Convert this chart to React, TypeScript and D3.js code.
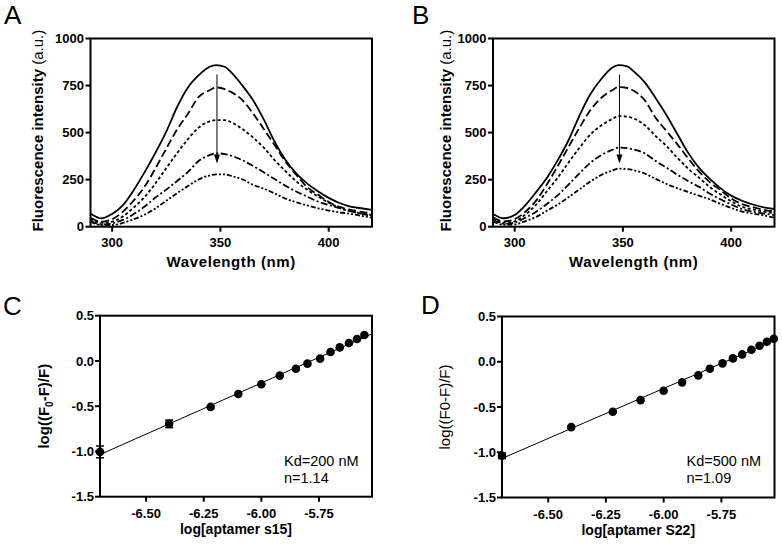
import React from 'react';
import * as d3 from 'd3';

// ---------- Data ----------
const WAVELENGTHS = [290, 295, 300, 305, 310, 315, 320, 325, 330, 335, 340, 345, 348, 352, 355, 360, 365, 370, 375, 380, 385, 390, 395, 400, 405, 410, 415, 420];

const A_CURVE_1 = [70, 44, 68, 115, 195, 290, 393, 505, 636, 740, 805, 850, 859, 850, 820, 752, 673, 570, 452, 356, 283, 230, 188, 153, 126, 107, 98, 89];
const A_CURVE_2 = [48, 27, 40, 80, 140, 213, 310, 415, 517, 600, 690, 725, 740, 731, 715, 674, 603, 519, 434, 347, 276, 211, 171, 131, 105, 90, 79, 71];
const A_CURVE_3 = [44, 20, 27, 55, 102, 158, 230, 312, 391, 465, 527, 560, 566, 566, 555, 520, 475, 420, 354, 296, 241, 197, 161, 128, 100, 82, 70, 62];
const A_CURVE_4 = [33, 12, 18, 36, 67, 107, 155, 197, 243, 291, 350, 380, 390, 386, 377, 354, 323, 289, 253, 218, 187, 160, 134, 115, 98, 83, 70, 57];
const A_CURVE_5 = [27, 9, 9, 20, 40, 64, 97, 138, 178, 216, 251, 272, 278, 278, 270, 252, 223, 202, 177, 149, 130, 113, 98, 86, 76, 69, 58, 48];

const B_CURVE_1 = [68, 45, 62, 115, 185, 262, 355, 462, 592, 705, 785, 845, 859, 852, 825, 768, 685, 595, 495, 395, 315, 255, 205, 165, 138, 118, 103, 94];
const B_CURVE_2 = [50, 28, 40, 80, 140, 227, 324, 426, 527, 620, 685, 725, 742, 737, 722, 673, 580, 510, 440, 365, 295, 238, 195, 150, 120, 104, 90, 80];
const B_CURVE_3 = [45, 20, 28, 65, 118, 190, 262, 343, 420, 490, 538, 572, 588, 585, 575, 540, 483, 430, 368, 310, 262, 212, 172, 135, 106, 92, 80, 71];
const B_CURVE_4 = [38, 16, 22, 48, 80, 122, 168, 225, 284, 340, 380, 408, 420, 417, 410, 390, 350, 315, 277, 243, 213, 176, 146, 118, 94, 80, 70, 62];
const B_CURVE_5 = [28, 10, 12, 30, 52, 86, 118, 158, 199, 240, 275, 298, 309, 306, 300, 283, 255, 228, 205, 185, 165, 146, 122, 100, 80, 70, 60, 48];

const SPECTRUM_X_TICKS = [300, 350, 400];
const SPECTRUM_Y_TICKS = [0, 250, 500, 750, 1000];
const ARROW = { wl: 348.4, from: 809, to: 336 };

const C_X = [-6.70, -6.40, -6.22, -6.10, -6.00, -5.92, -5.85, -5.80, -5.745, -5.70, -5.66, -5.62, -5.585, -5.553];
const C_Y = [-1.005, -0.695, -0.508, -0.366, -0.258, -0.162, -0.086, -0.03, 0.026, 0.099, 0.15, 0.199, 0.243, 0.287];
const C_ERR = [0.065, 0.042, 0, 0, 0, 0, 0, 0, 0, 0, 0, 0, 0, 0];

const D_X = [-6.70, -6.40, -6.22, -6.10, -6.00, -5.92, -5.85, -5.80, -5.745, -5.70, -5.66, -5.62, -5.585, -5.553, -5.523];
const D_Y = [-1.039, -0.722, -0.552, -0.424, -0.32, -0.228, -0.151, -0.077, -0.018, 0.037, 0.081, 0.133, 0.177, 0.221, 0.254];
const D_ERR = [0.03, 0, 0, 0, 0, 0, 0, 0, 0, 0, 0, 0, 0, 0, 0];

const HILL_X_TICKS = [-6.5, -6.25, -6.0, -5.75];
const HILL_Y_TICKS = [-1.5, -1.0, -0.5, 0.0, 0.5];

const FONT = 'Arial, "Liberation Sans", Helvetica, sans-serif';
const DASHES = ['none', '8,3.5', '3,2.4', '7,2.5,2,2.5', '5,2,2,2,2,2'];

type Box = { x0: number; x1: number; y0: number; y1: number };

function linearFit(xs: number[], ys: number[]) {
  const mx = d3.mean(xs) as number;
  const my = d3.mean(ys) as number;
  let sxy = 0, sxx = 0;
  xs.forEach((v, i) => { sxy += (v - mx) * (ys[i] - my); sxx += (v - mx) * (v - mx); });
  const slope = sxy / sxx;
  return { slope, intercept: my - slope * mx };
}

function SpectrumPanel({ box, curves, letter, letterPos, yTitleX, clipId }: { box: Box; curves: number[][]; letter: string; letterPos: [number, number]; yTitleX: number; clipId: string }) {
  const x = d3.scaleLinear().domain([290, 420]).range([box.x0, box.x1]);
  const y = d3.scaleLinear().domain([0, 1000]).range([box.y1, box.y0]);
  const line = d3.line<number>().x((_, i) => x(WAVELENGTHS[i])).y(d => y(d)).curve(d3.curveMonotoneX);
  const ax = x(ARROW.wl);
  const tipY = y(ARROW.to);
  const cy = (box.y0 + box.y1) / 2;
  return (
    <g>
      <text x={letterPos[0]} y={letterPos[1]} fontSize={26} fontFamily={FONT}>{letter}</text>
      <defs>
        <clipPath id={clipId}><rect x={box.x0} y={box.y0} width={box.x1 - box.x0} height={box.y1 - box.y0} /></clipPath>
      </defs>
      <g clipPath={`url(#${clipId})`}>
        {curves.map((c, i) => (
          <path key={i} d={line(c) || ''} fill="none" stroke="#000" strokeWidth={1.8} strokeDasharray={DASHES[i]} />
        ))}
      </g>
      <line x1={ax} x2={ax} y1={y(ARROW.from)} y2={tipY - 8} stroke="#000" strokeWidth={1} />
      <path d={`M${ax - 3},${tipY - 9} L${ax + 3},${tipY - 9} L${ax},${tipY} Z`} fill="#000" />
      <rect x={box.x0} y={box.y0} width={box.x1 - box.x0} height={box.y1 - box.y0} fill="none" stroke="#000" strokeWidth={2} />
      {SPECTRUM_Y_TICKS.map(t => (
        <g key={t}>
          <line x1={box.x0 - 5} x2={box.x0} y1={y(t)} y2={y(t)} stroke="#000" strokeWidth={2} />
          <text x={box.x0 - 6.5} y={y(t)} dy="0.36em" textAnchor="end" fontSize={13} fontWeight="bold" fontFamily={FONT}>{t}</text>
        </g>
      ))}
      {SPECTRUM_X_TICKS.map(t => (
        <g key={t}>
          <line x1={x(t)} x2={x(t)} y1={box.y1} y2={box.y1 + 5} stroke="#000" strokeWidth={2} />
          <text x={x(t)} y={box.y1 + 20.5} textAnchor="middle" fontSize={13} fontWeight="bold" fontFamily={FONT}>{t}</text>
        </g>
      ))}
      <text x={(box.x0 + box.x1) / 2} y={box.y1 + 40} textAnchor="middle" fontSize={15} fontWeight="bold" fontFamily={FONT} letterSpacing={0.6}>Wavelength (nm)</text>
      <text transform={`translate(${yTitleX},${cy - 2}) rotate(-90)`} textAnchor="middle" fontSize={15} fontFamily={FONT}>
        <tspan fontWeight="bold">Fluorescence intensity </tspan>
        <tspan>(a.u.)</tspan>
      </text>
    </g>
  );
}

function HillPanel({ box, xs, ys, errs, letter, letterPos, xTitle, yTitle, yTitleX, yTitleBold, kd, n, textX }: any) {
  const x = d3.scaleLinear().domain([-6.70, -5.52]).range([box.x0, box.x1]);
  const y = d3.scaleLinear().domain([-1.5, 0.5]).range([box.y1, box.y0]);
  const fit = linearFit(xs, ys);
  const [fx0, fx1] = x.domain();
  const cy = (box.y0 + box.y1) / 2;
  return (
    <g>
      <text x={letterPos[0]} y={letterPos[1]} fontSize={26} fontFamily={FONT}>{letter}</text>
      <line x1={x(fx0)} y1={y(fit.slope * fx0 + fit.intercept)} x2={x(fx1)} y2={y(fit.slope * fx1 + fit.intercept)} stroke="#000" strokeWidth={1} />
      {xs.map((v: number, i: number) => (
        <g key={i}>
          {errs[i] > 0 && (
            <g stroke="#000" strokeWidth={1.5}>
              <line x1={x(v)} x2={x(v)} y1={y(ys[i] - errs[i])} y2={y(ys[i] + errs[i])} />
              <line x1={x(v) - 4} x2={x(v) + 4} y1={y(ys[i] - errs[i])} y2={y(ys[i] - errs[i])} />
              <line x1={x(v) - 4} x2={x(v) + 4} y1={y(ys[i] + errs[i])} y2={y(ys[i] + errs[i])} />
            </g>
          )}
          <circle cx={x(v)} cy={y(ys[i])} r={4.3} fill="#000" />
        </g>
      ))}
      <rect x={box.x0} y={box.y0} width={box.x1 - box.x0} height={box.y1 - box.y0} fill="none" stroke="#000" strokeWidth={2} />
      {HILL_Y_TICKS.map(t => (
        <g key={t}>
          <line x1={box.x0 - 5} x2={box.x0} y1={y(t)} y2={y(t)} stroke="#000" strokeWidth={2} />
          <text x={box.x0 - 6} y={y(t)} dy="0.36em" textAnchor="end" fontSize={13} fontWeight="bold" fontFamily={FONT}>{t.toFixed(1)}</text>
        </g>
      ))}
      {HILL_X_TICKS.map(t => (
        <g key={t}>
          <line x1={x(t)} x2={x(t)} y1={box.y1} y2={box.y1 + 5} stroke="#000" strokeWidth={2} />
          <text x={x(t)} y={box.y1 + 21.5} textAnchor="middle" fontSize={13} fontWeight="bold" fontFamily={FONT}>{t.toFixed(2)}</text>
        </g>
      ))}
      <text x={(box.x0 + box.x1) / 2} y={box.y1 + 37} textAnchor="middle" fontSize={14} fontWeight="bold" fontFamily={FONT}>{xTitle}</text>
      <text transform={`translate(${yTitleX},${cy}) rotate(-90)`} textAnchor="middle" fontSize={15} fontWeight={yTitleBold ? 'bold' : 'normal'} fontFamily={FONT}>
        {yTitle}
      </text>
      <text x={textX} y={466} fontSize={14.5} fontFamily={FONT}>{kd}</text>
      <text x={textX} y={483} fontSize={14.5} fontFamily={FONT}>{n}</text>
    </g>
  );
}

export default function App() {
  const boxA = { x0: 90.5, x1: 372, y0: 38.5, y1: 226.7 };
  const boxB = { x0: 493, x1: 774.5, y0: 38.5, y1: 226.7 };
  const boxC = { x0: 100, x1: 372, y0: 315.7, y1: 496.7 };
  const boxD = { x0: 502, x1: 774.5, y0: 316.5, y1: 497.5 };
  return (
    <svg width={782} height={545} style={{ position: 'absolute', left: 0, top: 0, background: '#fff' }}>
      <rect x={0} y={0} width={782} height={545} fill="#fff" />
      <SpectrumPanel box={boxA} curves={[A_CURVE_1, A_CURVE_2, A_CURVE_3, A_CURVE_4, A_CURVE_5]} letter="A" letterPos={[4, 23.5]} yTitleX={43} clipId="clipA" />
      <SpectrumPanel box={boxB} curves={[B_CURVE_1, B_CURVE_2, B_CURVE_3, B_CURVE_4, B_CURVE_5]} letter="B" letterPos={[412, 23.5]} yTitleX={451} clipId="clipB" />
      <HillPanel box={boxC} xs={C_X} ys={C_Y} errs={C_ERR} letter="C" letterPos={[3, 315]}
        xTitle="log[aptamer s15]" yTitleX={48.5} yTitleBold={true}
        yTitle={<><tspan>log((F</tspan><tspan fontSize={10} dy={4}>0</tspan><tspan dy={-4}>-F)/F)</tspan></>}
        kd="Kd=200 nM" n="n=1.14" textX={284} />
      <HillPanel box={boxD} xs={D_X} ys={D_Y} errs={D_ERR} letter="D" letterPos={[421, 313.5]}
        xTitle="log[aptamer S22]" yTitleX={450} yTitleBold={false}
        yTitle="log((F0-F)/F)"
        kd="Kd=500 nM" n="n=1.09" textX={686.5} />
    </svg>
  );
}
